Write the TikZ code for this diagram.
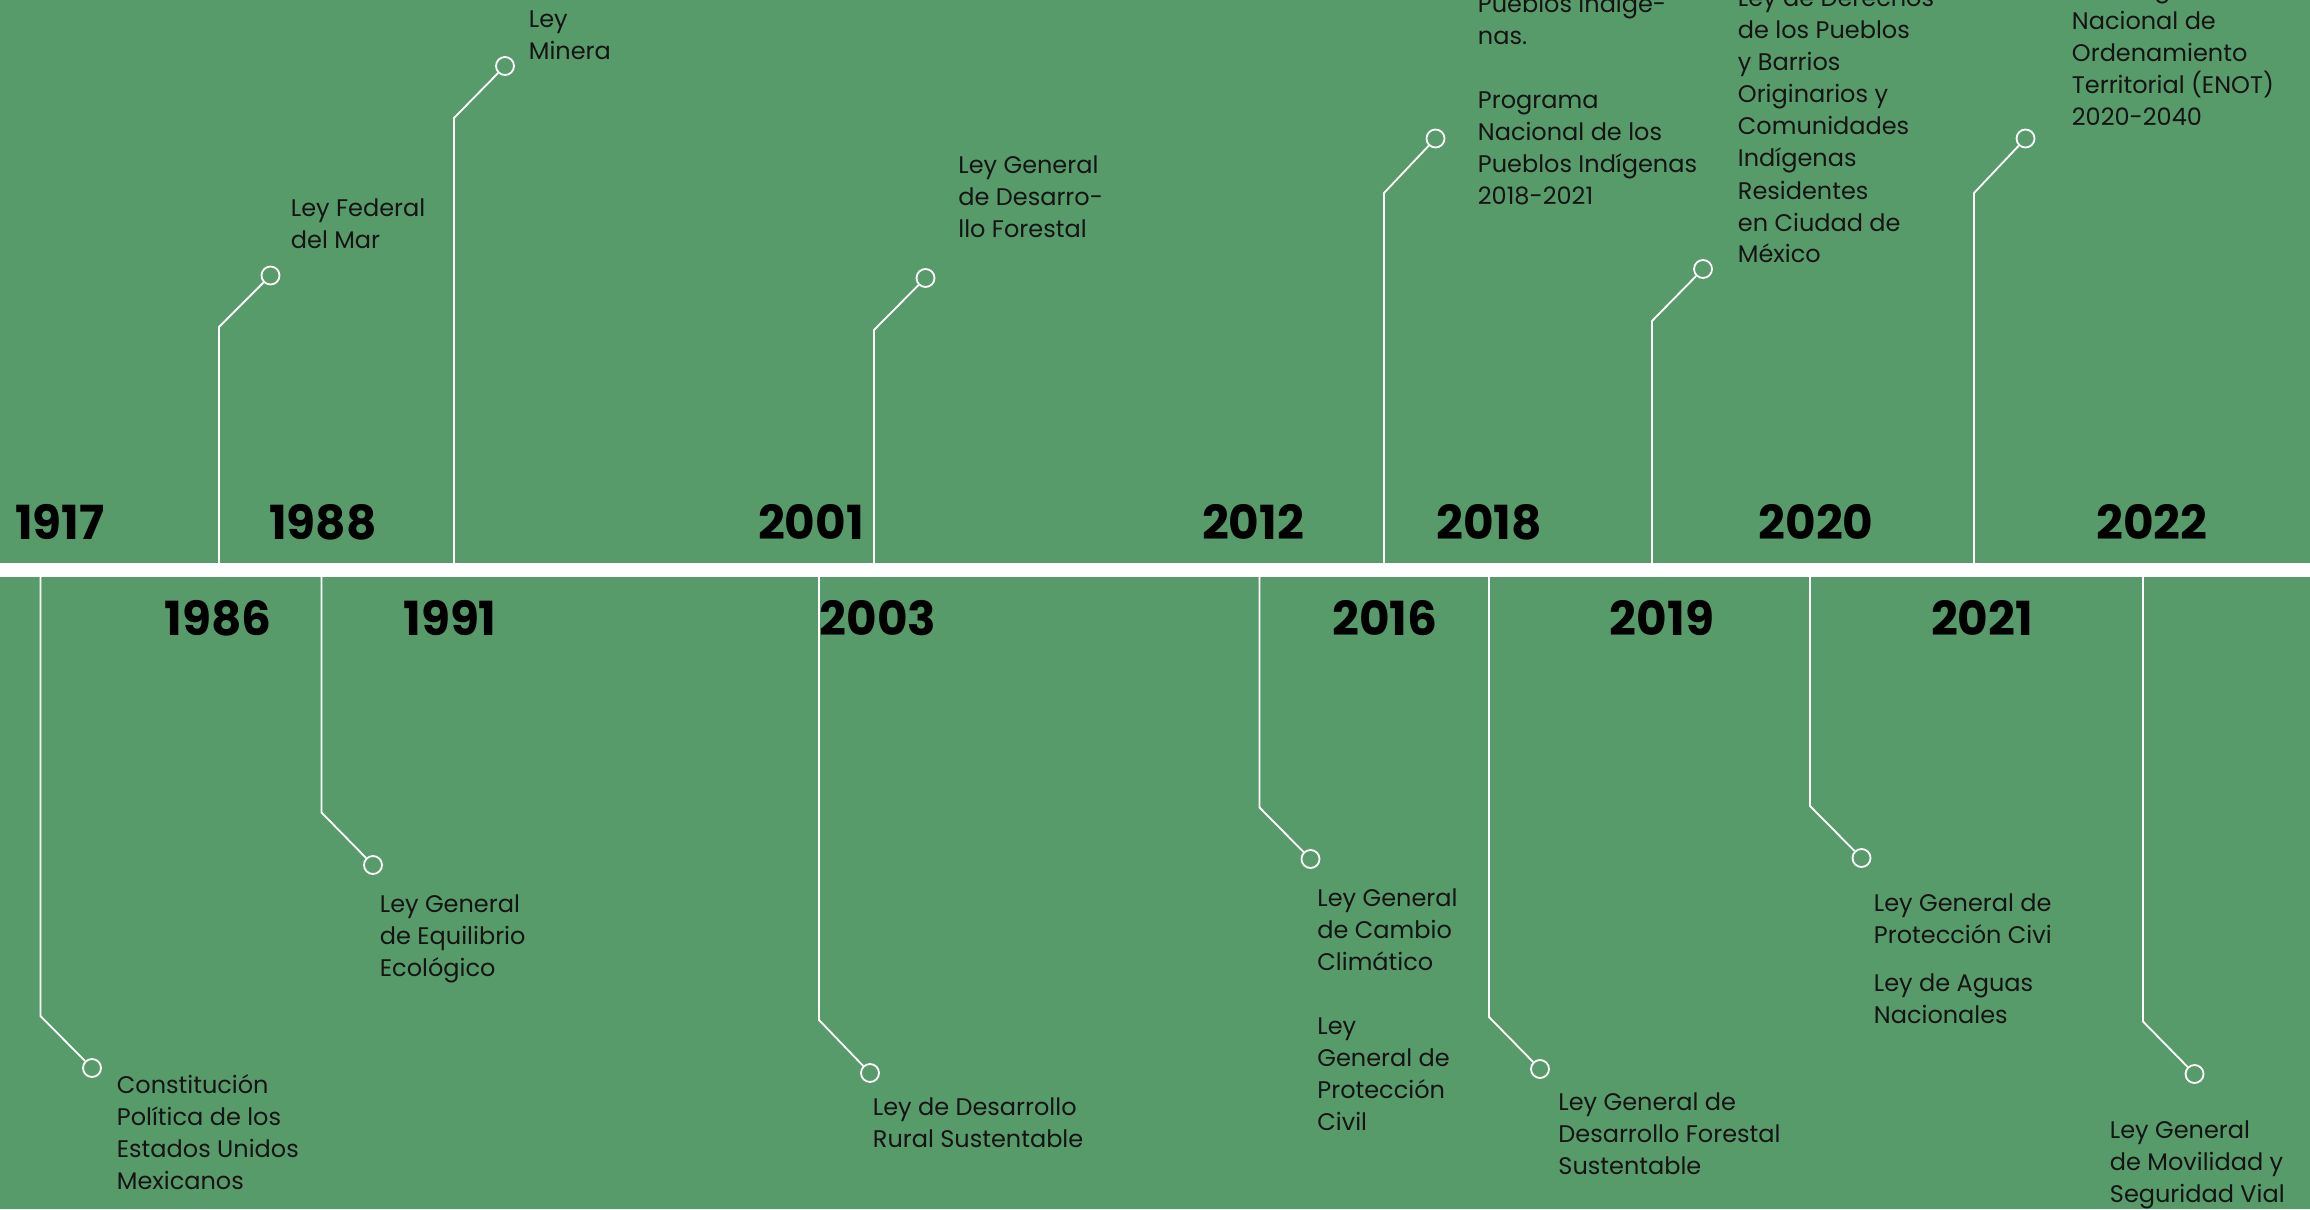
\documentclass[tikz,border=0pt]{standalone}
\usepackage{fontspec}
\setmainfont{Poppins}
\definecolor{bggreen}{RGB}{88,155,106}
\definecolor{lawtext}{RGB}{20,20,20}

\begin{document}
\begin{tikzpicture}[x=0.5pt,y=-0.5pt,line width=0.9pt]
	\tikzstyle{year}=[font=\fontsize{23.5}{23.5}\selectfont\bfseries,text=black,inner sep=0pt,anchor=base]
	\tikzstyle{law}=[font=\fontsize{12}{16}\selectfont,text=lawtext,align=left,inner sep=0pt,anchor=base west]
	\tikzstyle{dot}=[circle,draw=white,minimum size=9pt,inner sep=0pt]
	\tikzstyle{stem}=[draw=white]

	\useasboundingbox (0,0) rectangle (2310,1209);
	\fill[bggreen] (0,0) rectangle (2310,1209);
	\fill[white] (0,563) rectangle (2310,577);

	% years above the band
	\node[year] (y1917) at (60,539)   {1917};
	\node[year] (y1988) at (323,539)  {1988};
	\node[year] (y2001) at (811,539)  {2001};
	\node[year] (y2012) at (1253,539) {2012};
	\node[year] (y2018) at (1489,539) {2018};
	\node[year] (y2020) at (1816,539) {2020};
	\node[year] (y2022) at (2152,539) {2022};
	% years below the band
	\node[year] (y1986) at (218,635)  {1986};
	\node[year] (y1991) at (450,635)  {1991};
	\node[year] (y2003) at (878,635)  {2003};
	\node[year] (y2016) at (1385,635) {2016};
	\node[year] (y2019) at (1662,635) {2019};
	\node[year] (y2021) at (1982,635) {2021};

	% stems going up
	\coordinate (b1986) at (219,563);  \coordinate (k1986) at (219,327);
	\coordinate (b1991) at (454,563);  \coordinate (k1991) at (454,118);
	\coordinate (b2003) at (874,563);  \coordinate (k2003) at (874,330);
	\coordinate (b2016) at (1384,563); \coordinate (k2016) at (1384,193);
	\coordinate (b2019) at (1652,563); \coordinate (k2019) at (1652,321);
	\coordinate (b2021) at (1974,563); \coordinate (k2021) at (1974,193);
	\node[dot] (c1986) at (270.5,275.5) {};
	\node[dot] (c1991) at (505,66)      {};
	\node[dot] (c2003) at (925.5,278)   {};
	\node[dot] (c2016) at (1435.5,138.5){};
	\node[dot] (c2019) at (1703,269)    {};
	\node[dot] (c2021) at (2025.5,138.5){};

	\node[law] (t1986) at (290,249)   {Ley Federal\\del Mar};
	\node[law] (t1991) at (528,60)    {Ley\\Minera};
	\node[law] (t2003) at (957.5,237.5){Ley General\\de Desarro-\\llo Forestal};
	\node[law] (t2016) at (1477,204.5){Pueblos Indíge-\\nas.\\[16pt]Programa\\Nacional de los\\Pueblos Indígenas\\2018-2021};
	\node[law] (t2019) at (1737,263)  {Ley de Derechos\\de los Pueblos\\y Barrios\\Originarios y\\Comunidades\\Indígenas\\Residentes\\en Ciudad de\\México};
	\node[law] (t2021) at (2071,125.5){Estrategia\\Nacional de\\Ordenamiento\\Territorial (ENOT)\\2020-2040};

	\draw[stem] (b1986) -- (k1986) -- (c1986);
	\draw[stem] (b1991) -- (k1991) -- (c1991);
	\draw[stem] (b2003) -- (k2003) -- (c2003);
	\draw[stem] (b2016) -- (k2016) -- (c2016);
	\draw[stem] (b2019) -- (k2019) -- (c2019);
	\draw[stem] (b2021) -- (k2021) -- (c2021);

	% stems going down
	\coordinate (b1917) at (40.5,577);  \coordinate (k1917) at (40.5,1016);
	\coordinate (b1988) at (321.5,577); \coordinate (k1988) at (321.5,812.5);
	\coordinate (b2001) at (819,577);   \coordinate (k2001) at (819,1020);
	\coordinate (b2012) at (1259.5,577);\coordinate (k2012) at (1259.5,807.5);
	\coordinate (b2018) at (1489,577);  \coordinate (k2018) at (1489,1017);
	\coordinate (b2020) at (1810,577);  \coordinate (k2020) at (1810,806);
	\coordinate (b2022) at (2143,577);  \coordinate (k2022) at (2143,1021.5);
	\node[dot] (c1917) at (92,1068)     {};
	\node[dot] (c1988) at (373,865)     {};
	\node[dot] (c2001) at (870,1073)    {};
	\node[dot] (c2012) at (1310.5,859)  {};
	\node[dot] (c2018) at (1540,1069)   {};
	\node[dot] (c2020) at (1861.5,858)  {};
	\node[dot] (c2022) at (2194.5,1074) {};

	\node[law] (t1917) at (116,1189)   {Constitución\\Política de los\\Estados Unidos\\Mexicanos};
	\node[law] (t1988) at (379,976)    {Ley General\\de Equilibrio\\Ecológico};
	\node[law] (t2001) at (872,1147)   {Ley de Desarrollo\\Rural Sustentable};
	\node[law] (t2012) at (1316.5,1130){Ley General\\de Cambio\\Climático\\[16pt]Ley\\General de\\Protección\\Civil};
	\node[law] (t2018) at (1557.5,1174.5){Ley General de\\Desarrollo Forestal\\Sustentable};
	\node[law] (t2020) at (1873,1023.5){Ley General de\\Protección Civi\\[8pt]Ley de Aguas\\Nacionales};
	\node[law] (t2022) at (2109,1202)  {Ley General\\de Movilidad y\\Seguridad Vial};

	\draw[stem] (b1917) -- (k1917) -- (c1917);
	\draw[stem] (b1988) -- (k1988) -- (c1988);
	\draw[stem] (b2001) -- (k2001) -- (c2001);
	\draw[stem] (b2012) -- (k2012) -- (c2012);
	\draw[stem] (b2018) -- (k2018) -- (c2018);
	\draw[stem] (b2020) -- (k2020) -- (c2020);
	\draw[stem] (b2022) -- (k2022) -- (c2022);
\end{tikzpicture}
\end{document}
